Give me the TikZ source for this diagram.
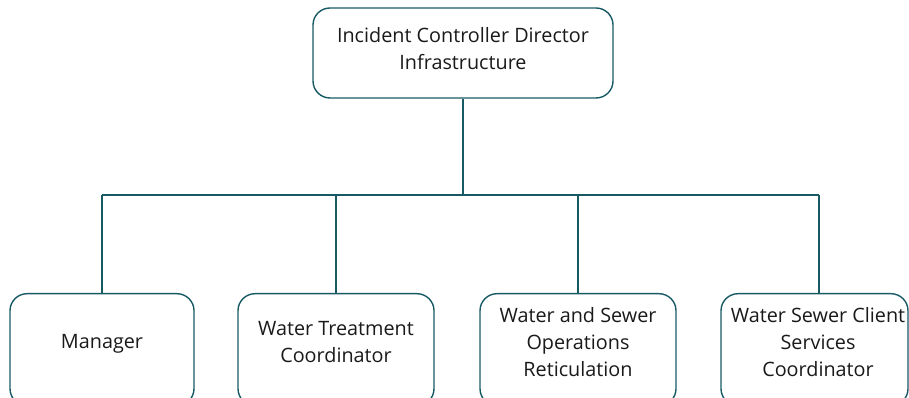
\documentclass[tikz,border=0pt]{standalone}
\usepackage{fontspec}
\setmainfont{Open Sans}
\definecolor{teal1}{HTML}{185A64}
\definecolor{txt}{HTML}{1A1A1A}
\begin{document}
\begin{tikzpicture}[x=1pt,y=1pt,
  orgbox/.style={draw=teal1, line width=1.4pt, rounded corners=17pt, fill=white, inner sep=0pt},
  orgtext/.style={text=txt, align=center, font=\fontsize{19.8}{27}\selectfont, inner sep=0pt},
  link/.style={draw=teal1, line width=1.4pt}]
\useasboundingbox (0,0) rectangle (909,398);
\clip (0,0) rectangle (909,398);
% top box
\node[orgbox, minimum width=300pt, minimum height=90pt] (top) at (463,345) {};
\node[orgtext] (toptext) at (463,349.5) {Incident Controller Director\\Infrastructure};
% bottom boxes (top edge at y=105)
\node[orgbox, minimum width=184pt, minimum height=112pt, anchor=north] (b1) at (102,105) {};
\node[orgbox, minimum width=196pt, minimum height=112pt, anchor=north] (b2) at (336,105) {};
\node[orgbox, minimum width=196pt, minimum height=112pt, anchor=north] (b3) at (578,105) {};
\node[orgbox, minimum width=187pt, minimum height=112pt, anchor=north] (b4) at (814.5,105) {};
\node[orgtext] (t1) at (102,54) {Manager};
\node[orgtext] (t2) at (336,55.5) {Water Treatment\\Coordinator};
\node[orgtext] (t3) at (578,56) {Water and Sewer\\Operations\\Reticulation};
\node[orgtext] (t4) at (818,56) {Water Sewer Client\\Services\\Coordinator};
% connectors
\coordinate (bus) at (463,203);
\coordinate (busL) at (102,203);
\coordinate (busR) at (819,203);
\draw[link, line width=2pt] (top.south) -- (bus);
\draw[link, line width=1.8pt] (busL) -- (busR);
\draw[link] (busL) -- (b1.north);
\draw[link] (bus -| b2.north) -- (b2.north);
\draw[link] (bus -| b3.north) -- (b3.north);
\draw[link] (busR) -- (busR |- b4.north);
\end{tikzpicture}
\end{document}
